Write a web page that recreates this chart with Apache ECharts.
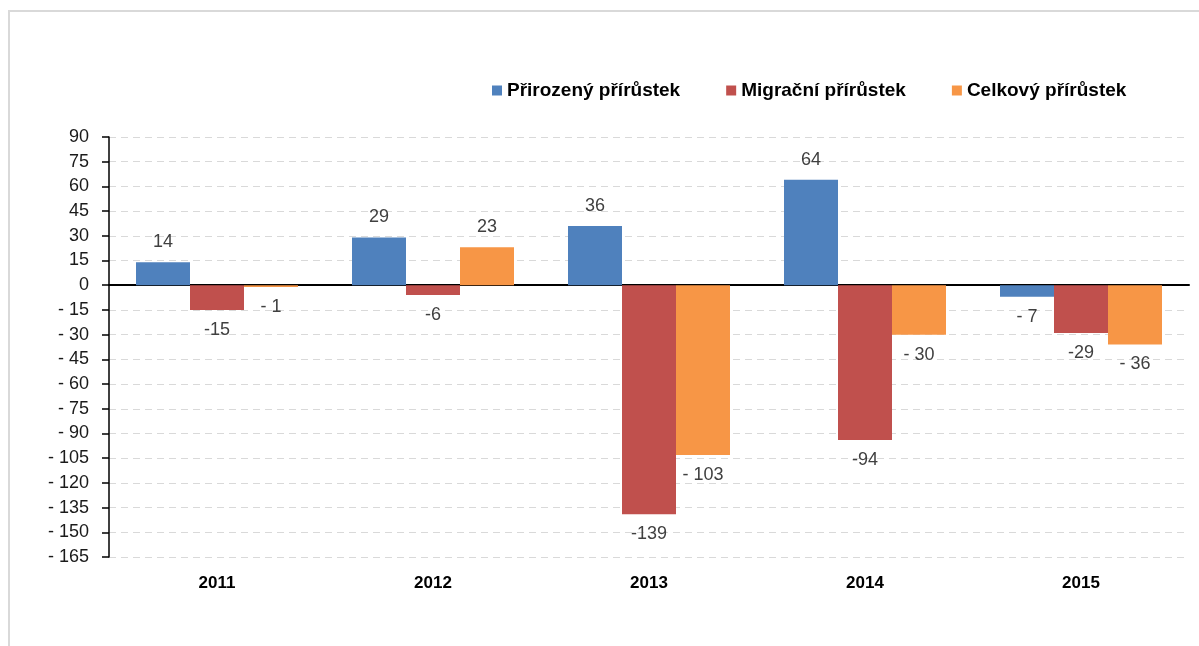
<!DOCTYPE html>
<html>
<head>
<meta charset="utf-8">
<script src="https://cdn.jsdelivr.net/npm/echarts@6/dist/echarts.min.js"></script>
<style>
  html, body { margin: 0; padding: 0; background: #fff; overflow: hidden; }
  .frame { position: absolute; left: 8px; top: 10px; width: 1300px; height: 800px; border: 2px solid #d9d9d9; }
  #chart { position: absolute; left: 0; top: 0; width: 1199px; height: 646px; }
</style>
</head>
<body>
<div class="frame"></div>
<div id="chart"></div>
<script>
const years = ["2011", "2012", "2013", "2014", "2015"];
const prirozeny = [14, 29, 36, 64, -7];
const migracni = [-15, -6, -139, -94, -29];
const celkovy = [-1, 23, -103, -30, -36];
const seriesNames = ["Přirozený přírůstek", "Migrační přírůstek", "Celkový přírůstek"];
const colors = ["#4f81bd", "#c0504d", "#f79646"];

const font = "'Liberation Sans', 'Noto Sans', sans-serif";

// accounting style: "- 7"
const accounting = (v) => (v < 0 ? "- " + Math.abs(v) : String(v));
const plain = (v) => String(v);

function barSeries(name, data, color, fmt) {
  return {
    name,
    type: "bar",
    data,
    barGap: "0%",
    barCategoryGap: "25%",
    itemStyle: { color },
    label: {
      show: true,
      position: "outside",
      distance: 11,
      color: "#404040",
      fontFamily: font,
      fontSize: 18,
      formatter: (p) => fmt(p.value),
    },
  };
}

const chart = echarts.init(document.getElementById("chart"));
chart.setOption({
  animation: false,
  textStyle: { fontFamily: font },
  legend: {
    left: 487,
    top: 76,
    icon: "rect",
    itemWidth: 10,
    itemHeight: 10,
    itemGap: 46,
    textStyle: { color: "#000", fontWeight: "bold", fontSize: 19, fontFamily: font },
    data: seriesNames,
  },
  grid: { left: 109, right: 10, top: 137, bottom: 89 },
  xAxis: [
    {
      type: "category",
      data: years,
      axisLine: { onZero: true, lineStyle: { color: "#000", width: 2 } },
      axisTick: { show: false },
      axisLabel: { show: false },
    },
    {
      type: "category",
      data: years,
      position: "bottom",
      axisLine: { show: false, onZero: false },
      axisTick: { show: false },
      axisLabel: { color: "#000", fontWeight: "bold", fontSize: 17, fontFamily: font, margin: 18 },
    },
  ],
  yAxis: {
    type: "value",
    min: -165,
    max: 90,
    interval: 15,
    axisLine: { show: true, lineStyle: { color: "#000", width: 1.5 } },
    axisTick: { show: true, length: 7, lineStyle: { color: "#000", width: 1.5 } },
    axisLabel: { color: "#1a1a1a", fontSize: 18, fontFamily: font, margin: 20, formatter: accounting },
    splitLine: { lineStyle: { color: "#d9d9d9", type: [7, 5], width: 1.2 } },
  },
  series: [
    barSeries(seriesNames[0], prirozeny, colors[0], accounting),
    barSeries(seriesNames[1], migracni, colors[1], plain),
    barSeries(seriesNames[2], celkovy, colors[2], accounting),
  ],
});
</script>
</body>
</html>
